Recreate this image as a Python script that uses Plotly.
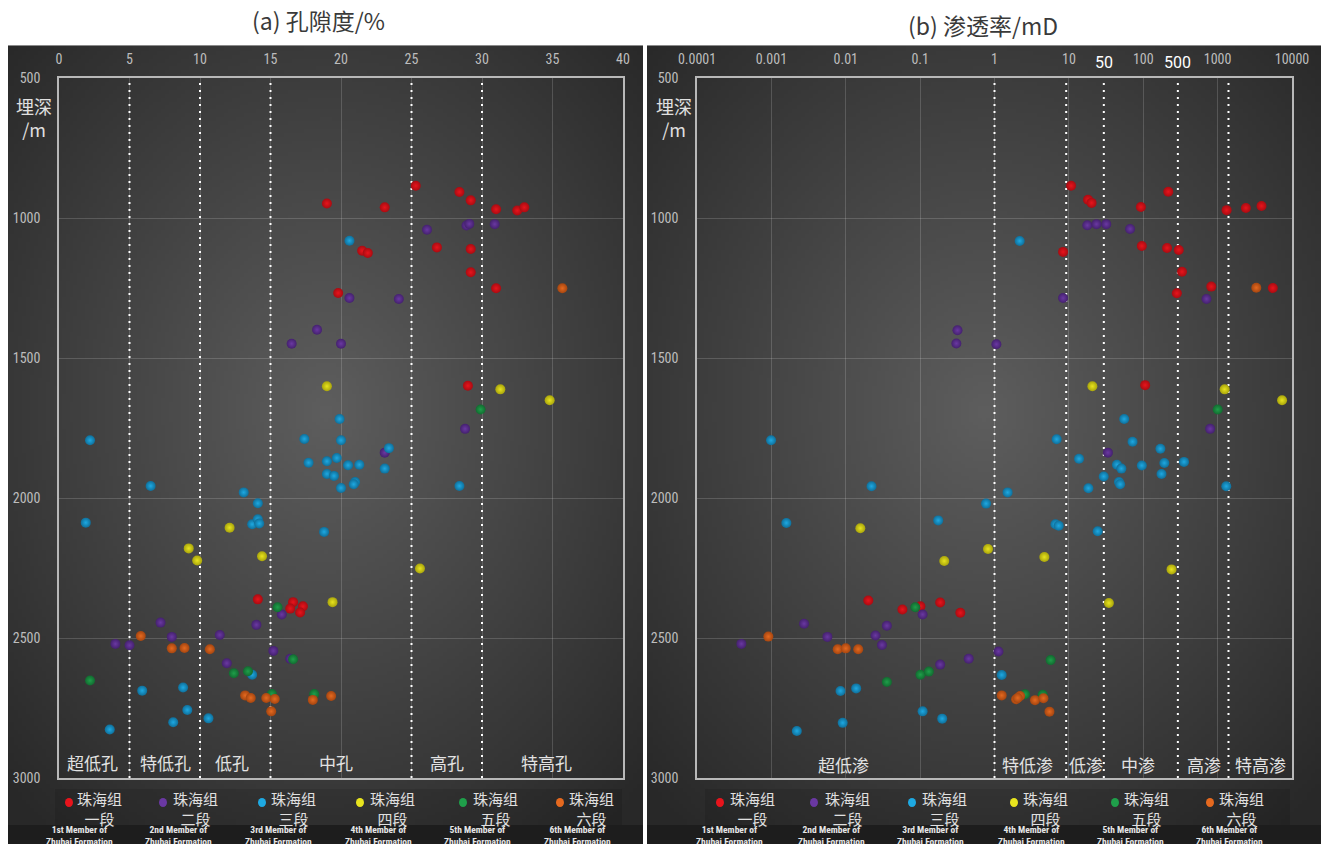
import math
import zlib
import struct
import base64
import numpy as np
import plotly.graph_objects as go

W, H = 1321, 844

# ---------------- data ----------------
series_names = ["珠海组一段", "珠海组二段", "珠海组三段", "珠海组四段", "珠海组五段", "珠海组六段"]
legend_line1 = ["珠海组"] * 6
legend_line2 = ["一段", "二段", "三段", "四段", "五段", "六段"]
english_names = ["1st Member of", "2nd Member of", "3rd Member of",
                 "4th Member of", "5th Member of", "6th Member of"]

# (a) porosity, %
por_m1 = [19.0, 23.1, 25.3, 28.4, 29.2, 31.0, 32.5, 33.0, 26.8, 29.2, 21.5, 21.9, 29.2, 31.0, 19.8, 29.0,
          14.1, 16.6, 17.3, 16.4, 17.1]
por_d1 = [948, 962, 885, 907, 937, 969, 973, 962, 1105, 1111, 1117, 1125, 1194, 1251, 1268, 1599,
          2362, 2372, 2387, 2395, 2409]
por_m2 = [26.1, 28.9, 29.1, 30.9, 20.6, 24.1, 18.3, 16.5, 20.0, 28.8, 23.1, 15.8, 14.0, 7.2, 11.4, 8.0,
          4.0, 5.0, 15.2, 16.4, 11.9]
por_d2 = [1042, 1027, 1021, 1022, 1286, 1289, 1399, 1449, 1449, 1753, 1838, 2416, 2453, 2445, 2489, 2496,
          2521, 2526, 2546, 2574, 2590]
por_m3 = [20.6, 19.9, 2.2, 17.4, 20.0, 23.4, 17.7, 19.0, 19.7, 20.5, 21.3, 23.1, 19.0, 19.5, 21.0, 20.9,
          20.0, 28.4, 6.5, 13.1, 14.1, 1.9, 13.7, 14.1, 14.2, 18.8, 13.7, 5.9, 8.8, 9.1, 8.1, 10.6, 3.6]
por_d3 = [1081, 1718, 1794, 1789, 1794, 1822, 1874, 1869, 1857, 1883, 1881, 1895, 1914, 1921, 1943, 1951,
          1964, 1957, 1957, 1980, 2019, 2088, 2094, 2076, 2091, 2121, 2631, 2688, 2677, 2757, 2801, 2787, 2827]
por_m4 = [19.0, 31.3, 34.8, 12.1, 9.2, 9.8, 14.4, 25.6, 19.4]
por_d4 = [1601, 1612, 1651, 2106, 2180, 2223, 2208, 2252, 2372]
por_m5 = [29.9, 15.5, 16.6, 12.4, 13.4, 2.2, 15.1, 18.1]
por_d5 = [1684, 2390, 2576, 2626, 2619, 2652, 2700, 2700]
por_m6 = [35.7, 5.8, 8.0, 8.9, 10.7, 13.2, 13.6, 14.7, 15.3, 18.0, 19.3, 15.05]
por_d6 = [1251, 2493, 2537, 2536, 2540, 2705, 2714, 2714, 2718, 2721, 2707, 2762]

# (b) permeability, mD
perm_m1 = [10.7, 217, 18.1, 20.2, 93, 1321, 2399, 3890, 95.7, 209, 300, 8.36, 332, 822, 5520, 283, 106,
           0.0201, 0.0578, 0.101, 0.186, 0.347]
perm_d1 = [885, 906, 935, 946, 961, 972, 964, 957, 1100, 1107, 1114, 1121, 1192, 1245, 1250, 1269, 1597,
           2366, 2398, 2387, 2373, 2410]
perm_m2 = [17.7, 23.5, 31.8, 66.5, 8.36, 709, 0.318, 0.307, 1.06, 793, 33.5, 0.108, 0.0357, 0.00275,
           0.0251, 0.00566, 0.000395, 0.0307, 1.13, 0.45, 0.186]
perm_d2 = [1026, 1022, 1022, 1039, 1286, 1289, 1401, 1448, 1451, 1753, 1838, 2416, 2456, 2449,
           2491, 2496, 2521, 2525, 2548, 2574, 2595]
perm_m3 = [2.18, 55.4, 0.00099, 6.85, 71.8, 170, 13.7, 44.3, 50.8, 95.7, 192, 353, 29.4, 176, 47.1, 48.9,
           18.3, 1306, 0.0222, 1.50, 0.77, 0.00159, 0.175, 6.6, 7.3, 24.4, 1.25, 0.0085, 0.0138, 0.108,
           0.198, 0.0091, 0.0022]
perm_d3 = [1082, 1718, 1794, 1790, 1799, 1824, 1860, 1881, 1895, 1884, 1875, 1871, 1923, 1914, 1943, 1951,
           1965, 1958, 1958, 1980, 2020, 2089, 2080, 2094, 2099, 2119, 2632, 2689, 2680, 2762,
           2788, 2803, 2832]
perm_m4 = [20.7, 1243, 7350, 0.0157, 0.818, 0.211, 4.68, 240, 34.5]
perm_d4 = [1601, 1612, 1651, 2108, 2182, 2225, 2211, 2255, 2375]
perm_m5 = [1002, 0.0861, 5.69, 0.101, 0.131, 0.0357, 2.57, 4.44]
perm_d5 = [1684, 2390, 2579, 2631, 2620, 2657, 2701, 2703]
perm_m6 = [3310, 0.00091, 0.0078, 0.01, 0.0147, 1.25, 1.95, 2.21, 2.05, 3.5, 4.55, 5.48]
perm_d6 = [1249, 2495, 2540, 2537, 2540, 2705, 2719, 2707, 2714, 2722, 2715, 2763]

por_values = [por_m1, por_m2, por_m3, por_m4, por_m5, por_m6]
por_depths = [por_d1, por_d2, por_d3, por_d4, por_d5, por_d6]
perm_values = [perm_m1, perm_m2, perm_m3, perm_m4, perm_m5, perm_m6]
perm_depths = [perm_d1, perm_d2, perm_d3, perm_d4, perm_d5, perm_d6]

# axis ticks
por_ticks = [0, 5, 10, 15, 20, 25, 30, 35, 40]
perm_ticks = [0.0001, 0.001, 0.01, 0.1, 1, 10, 100, 1000, 10000]
perm_ticktext = ["0.0001", "0.001", "0.01", "0.1", "1", "10", "100", "1000", "10000"]
depth_ticks = [500, 1000, 1500, 2000, 2500, 3000]

# class boundaries and labels (dotted lines drawn where the picture shows them)
por_bounds = [5, 10, 15, 25, 30]
por_classes = ["超低孔", "特低孔", "低孔", "中孔", "高孔", "特高孔"]
perm_bounds = [1, 9.2, 29.5, 292, 1400]
perm_bound_labels = {29.5: "50", 292: "500"}
perm_classes = ["超低渗", "特低渗", "低渗", "中渗", "高渗", "特高渗"]

# ---------------- style ----------------
base_colors = ["#e8141c", "#6a38a2", "#1ea9e2", "#e8e41e", "#1f9f4a", "#e5691f"]
edge_colors = ["#a80c12", "#44216e", "#0f6f9a", "#a8a40c", "#126a30", "#a44510"]
TICK_FONT = "Liberation Sans Narrow, Arial Narrow, Roboto Condensed, DejaVu Sans Condensed, sans-serif"
CJK = "Noto Sans CJK SC, Noto Sans, sans-serif"


def px(x):
    return x / W


def py(y):
    return 1 - y / H


def gradient_uri(w, h, cx, cy, vmax, vmin, power):
    yy, xx = np.mgrid[0:h, 0:w]
    dx = (xx / (w - 1) - cx) / 0.5
    dy = (yy / (h - 1) - cy) / 0.5
    r = np.sqrt(dx ** 2 + dy ** 2) / math.sqrt(2)
    v = vmax - (vmax - vmin) * np.clip(r, 0, 1) ** power
    v = np.clip(v, 0, 255).astype(np.uint8)
    raw = b"".join(b"\x00" + v[i].tobytes() for i in range(h))

    def chunk(t, d):
        return struct.pack(">I", len(d)) + t + d + struct.pack(">I", zlib.crc32(t + d) & 0xffffffff)

    png = (b"\x89PNG\r\n\x1a\n" + chunk(b"IHDR", struct.pack(">IIBBBBB", w, h, 8, 0, 0, 0, 0))
           + chunk(b"IDAT", zlib.compress(raw, 9)) + chunk(b"IEND", b""))
    return "data:image/png;base64," + base64.b64encode(png).decode()


fig = go.Figure()

for i, name in enumerate(series_names):
    mk = dict(size=10, color=edge_colors[i], line=dict(width=0),
              gradient=dict(type="radial", color=base_colors[i]))
    fig.add_trace(go.Scatter(x=por_values[i], y=por_depths[i], mode="markers", name=name,
                             xaxis="x", yaxis="y", marker=mk, showlegend=False))
    fig.add_trace(go.Scatter(x=perm_values[i], y=perm_depths[i], mode="markers", name=name,
                             xaxis="x2", yaxis="y2", marker=mk, showlegend=False))

ydom = [py(778), py(78)]
axis_common = dict(showgrid=True, gridcolor="rgba(255,255,255,0.16)", gridwidth=1, zeroline=False,
                   showline=True, linecolor="#b8b8b8", linewidth=1.5, mirror=True, ticks="",
                   automargin=False,
                   tickfont=dict(family=TICK_FONT, size=14, color="#bdbdbd"))

fig.update_layout(
    width=W, height=H, margin=dict(l=0, r=0, t=0, b=0, pad=0, autoexpand=False), autosize=False,
    paper_bgcolor="white", plot_bgcolor="rgba(0,0,0,0)",
    xaxis=dict(domain=[px(59), px(623)], range=[0, 40], side="top", anchor="y",
               tickvals=por_ticks, ticklabelstandoff=7, **axis_common),
    yaxis=dict(domain=ydom, range=[3000, 500], anchor="x", tickvals=depth_ticks,
               ticklabelstandoff=14, **axis_common),
    xaxis2=dict(domain=[px(697), px(1292)], type="log", range=[-4, 4], side="top", anchor="y2",
                tickvals=perm_ticks, ticktext=perm_ticktext, ticklabelstandoff=7, **axis_common),
    yaxis2=dict(domain=ydom, range=[3000, 500], anchor="x2", tickvals=depth_ticks,
                ticklabelstandoff=14, **axis_common),
)

# backgrounds
images = []
shapes = []
for (x0, x1) in [(8, 643), (647, 1321)]:
    images.append(dict(source=gradient_uri(160, 200, 0.5, 0.47, 94, 40, 1.0), xref="paper", yref="paper",
                       x=px(x0), y=py(45), sizex=px(x1) - px(x0), sizey=py(45) - py(825),
                       xanchor="left", yanchor="top", sizing="stretch", layer="below"))
    shapes.append(dict(type="rect", xref="paper", yref="paper", x0=px(x0), x1=px(x1), y0=py(844), y1=py(825),
                       fillcolor="#1d1d1d", line=dict(width=0), layer="below"))
    shapes.append(dict(type="line", xref="paper", yref="paper", x0=px(x0), x1=px(x1), y0=py(45.5), y1=py(45.5),
                       line=dict(color="#8a8a8a", width=1), layer="below"))

# legend boxes
for (x0, x1) in [(55, 622), (705, 1290)]:
    shapes.append(dict(type="rect", xref="paper", yref="paper", x0=px(x0), x1=px(x1), y0=py(825), y1=py(789),
                       fillcolor="rgba(0,0,0,0.10)", line=dict(width=0), layer="below"))

# class boundary dotted lines
for b in por_bounds:
    shapes.append(dict(type="line", xref="x", yref="y domain", x0=b, x1=b, y0=0, y1=1,
                       line=dict(color="white", width=2, dash="2px,5px"), layer="below"))
for b in perm_bounds:
    shapes.append(dict(type="line", xref="x2", yref="y2 domain", x0=b, x1=b, y0=0, y1=1,
                       line=dict(color="white", width=2, dash="2px,5px"), layer="below"))

annotations = []


def note(text, x, y, size, color, family=CJK, xref="paper", yanchor="middle", **kw):
    annotations.append(dict(text=text, x=x, y=y, xref=xref, yref="paper", showarrow=False,
                            xanchor="center", yanchor=yanchor, align="center",
                            font=dict(family=family, size=size, color=color, **kw)))


# titles
note("(a) 孔隙度/%", px(318), py(20), 23, "#3a3a3a")
note("(b) 渗透率/mD", px(983), py(25), 23, "#3a3a3a")
# y-axis titles
for cx in [34, 674]:
    note("埋深<br>/m", px(cx), py(117), 18, "#e0e0e0")
# extra permeability tick labels on the boundary lines
for v, lab in perm_bound_labels.items():
    note(lab, math.log10(v), py(63), 16, "white", family="Roboto, Liberation Sans, sans-serif", xref="x2")
# class labels
por_class_px = [92, 165, 232, 336, 447, 546]
perm_class_px = [843, 1027, 1086, 1138, 1204, 1260]
for lab, cx in zip(por_classes, por_class_px):
    note(lab, px(cx), py(762), 17, "#e2e2e2")
for lab, cx in zip(perm_classes, perm_class_px):
    note(lab, px(cx), py(764), 17, "#e2e2e2")

# custom legends
leg_left_marker = [69, 163, 262, 360, 463, 560]
leg_left_text = [99, 195, 293, 393, 495, 591]
eng_left = [79, 178, 278, 378, 477, 577]
leg_right_marker = [720, 814, 912, 1014, 1115, 1210]
leg_right_text = [752, 847, 944, 1045, 1146, 1241]
eng_right = [729, 831, 930, 1031, 1130, 1229]
for mk_list, tx_list, en_list in [(leg_left_marker, leg_left_text, eng_left),
                                  (leg_right_marker, leg_right_text, eng_right)]:
    for i in range(6):
        mx = mk_list[i]
        shapes.append(dict(type="circle", xref="paper", yref="paper",
                           x0=px(mx - 4), x1=px(mx + 4), y0=py(807), y1=py(798),
                           fillcolor=base_colors[i], line=dict(width=0), layer="above"))
        note(legend_line1[i] + "<br>" + legend_line2[i], px(tx_list[i]), py(808), 15, "#e0e0e0")
        note(english_names[i] + "<br>Zhubai Formation", px(en_list[i]), py(835), 9.5, "#e6e6e6",
             family=TICK_FONT, yanchor="middle", weight="bold")

fig.update_layout(images=images, shapes=shapes, annotations=annotations)

fig.write_html("out.html", config={"displayModeBar": False},
               post_script="document.body.style.margin='0px';")
